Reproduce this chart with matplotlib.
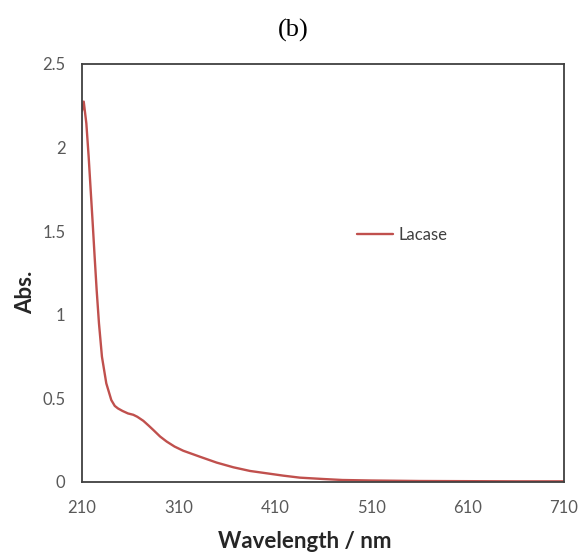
import matplotlib
matplotlib.use("Agg")
import matplotlib.pyplot as plt

wavelength = [210, 211.8, 214.5, 216.9, 219, 221.1, 223.1, 225.2, 227.6, 230.7, 235.2, 240.4, 244, 247.3, 252,
              257.7, 263.2, 267.4, 273.6, 279, 284, 291, 297.8, 306, 315, 332.4, 349.7, 367, 384.3, 401.6,
              418.8, 436, 460, 480, 510, 560, 610, 660, 710]
absorbance = [2.22, 2.275, 2.145, 1.946, 1.746, 1.547, 1.348, 1.148, 0.949, 0.749, 0.59, 0.49, 0.455, 0.44, 0.425,
              0.41, 0.402, 0.39, 0.366, 0.338, 0.311, 0.272, 0.242, 0.212, 0.187, 0.151, 0.116, 0.088, 0.066, 0.052,
              0.038, 0.026, 0.018, 0.012, 0.009, 0.006, 0.005, 0.004, 0.004]

xticks = [210, 310, 410, 510, 610, 710]
yticks = [0, 0.5, 1, 1.5, 2, 2.5]
ytick_labels = ["0", "0.5", "1", "1.5", "2", "2.5"]

plt.rcParams['font.family'] = ['Lato', 'DejaVu Sans']

fig = plt.figure(figsize=(5.86, 5.58), dpi=100)
ax = fig.add_axes([82/586, 1-482/558, (564-82)/586, (482-64)/558])

ax.plot(wavelength, absorbance, color="#C0504D", lw=1.7, label="Lacase",
        solid_capstyle="round", solid_joinstyle="round")
ax.set_xlim(210, 710)
ax.set_ylim(0, 2.5)
ax.set_xticks(xticks)
ax.set_xticklabels([str(t) for t in xticks])
ax.set_yticks(yticks)
ax.set_yticklabels(ytick_labels)
ax.tick_params(axis="y", length=0, labelsize=12, labelcolor="#595959", pad=12)
ax.tick_params(axis="x", length=0, labelsize=12, labelcolor="#595959", pad=13)
for s in ax.spines.values():
    s.set_color("#404040")
    s.set_linewidth(1.3)

ax.set_xlabel("Wavelength / nm", fontsize=16, fontweight="bold", color="#262626")
ax.xaxis.set_label_coords((305-82)/482, (482-531)/418)
ax.set_ylabel("Abs.", fontsize=16, fontweight="bold", color="#262626")
ax.yaxis.set_label_coords((36-82)/482, (482-292)/418)

leg = ax.legend(loc="upper left", bbox_to_anchor=((350-82)/482, (482-220)/418), frameon=False,
                fontsize=12, handlelength=2.2, handletextpad=0.3, borderaxespad=0)
for t in leg.get_texts():
    t.set_color("#404040")

fig.text(0.5, 1-30/558, "(b)", ha="center", va="center", fontsize=19, family="Liberation Serif")

fig.savefig("out.png", dpi=100)
